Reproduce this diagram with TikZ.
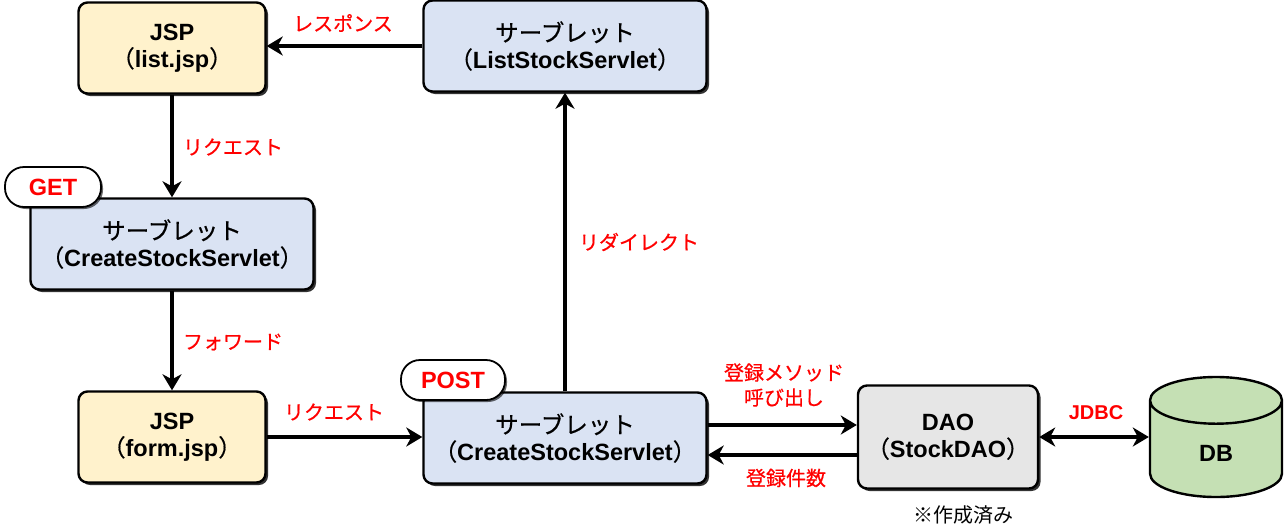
\documentclass[tikz,border=0pt]{standalone}
\usepackage{fontspec}
\setmainfont{Liberation Sans}
\newfontfamily\jp[FakeBold=0.6]{Noto Sans CJK JP}
\newfontfamily\jpthin{Noto Sans CJK JP}
\usetikzlibrary{arrows.meta,shapes.geometric,shadows,calc}
\definecolor{jspfill}{HTML}{FFF2CC}
\definecolor{svfill}{HTML}{DAE3F3}
\definecolor{daofill}{HTML}{E6E6E6}
\definecolor{dbfill}{HTML}{C5E0B4}
\newcommand{\Jp}[1]{{\jp\mdseries #1}}
\newcommand{\Paren}[1]{\Jp{（}#1\Jp{）}}
\newcommand{\BoxFont}{\fontsize{23.5}{27}\selectfont\bfseries}
\newcommand{\LabelFont}{\fontsize{20}{25}\selectfont}
\tikzset{Box/.style={
    rounded corners=9pt,
    line width=2.4pt,
    draw=black,
    align=center,
    inner sep=0pt,
    font=\BoxFont,
    drop shadow={shadow xshift=2.5pt, shadow yshift=-2.5pt, fill=black, opacity=0.8},
    }
}
\tikzset{>={Stealth[length=16pt,width=19pt,inset=5pt]}}

\begin{document}
\begin{tikzpicture}[x=1pt, y=-1pt,
    Jsp/.style={Box, fill=jspfill, minimum width=187pt, minimum height=91pt},
    Sv/.style={Box, fill=svfill, minimum width=283pt, minimum height=91pt},
    Dao/.style={Box, fill=daofill, minimum width=180pt, minimum height=103pt},
    Pill/.style={rounded corners=19pt, line width=1.8pt, draw=black, fill=white,
    minimum height=40pt, inner sep=0pt, text=red, font=\BoxFont,
    drop shadow={shadow xshift=2pt, shadow yshift=-2pt, fill=black, opacity=0.6}},
    Lbl/.style={text=red, font=\LabelFont\jp, align=center, inner sep=0pt},
    Link/.style={line width=4pt, ->},
]
\useasboundingbox (0,0) rectangle (1284,531);
% boxes
\node [Jsp] (jsplist) at (172,48) {JSP\\\Paren{list.jsp}};
\node [Sv] (listsv) at (565,46) {\Jp{サーブレット}\\\Paren{ListStockServlet}};
\node [Sv] (createget) at (172,244) {\Jp{サーブレット}\\\Paren{CreateStockServlet}};
\node [Jsp] (jspform) at (172,437) {JSP\\\Paren{form.jsp}};
\node [Sv] (createpost) at (565,438) {\Jp{サーブレット}\\\Paren{CreateStockServlet}};
\node [Dao] (dao) at (948,437) {DAO\\\Paren{StockDAO}};
\node [cylinder, shape border rotate=90, draw=black, line width=2.4pt, fill=dbfill,
    minimum width=132pt, minimum height=120pt, aspect=1.15, font=\BoxFont,
    anchor=shape center] (db) at (1216,437) {DB};
% methods
\node [Pill, minimum width=96pt] (get) at (53,187) {GET};
\node [Pill, minimum width=104pt] (post) at (453,380) {POST};
% connectors
\draw [Link] (listsv.west) -- (listsv.west -| jsplist.east);
\draw [Link] (jsplist.south) -- (createget.north);
\draw [Link] (createget.south) -- (jspform.north);
\draw [Link] (jspform.east) -- (jspform.east -| createpost.west);
\draw [Link] (createpost.north) -- (listsv.south);
\draw [Link] ([yshift=13pt]createpost.east) -- ([yshift=13pt]createpost.east -| dao.west);
\draw [Link] ([yshift=-18pt]dao.west) -- ([yshift=-18pt]dao.west -| createpost.east);
\draw [line width=4pt, <->] (dao.east) -- (dao.east -| db.west);
% labels
\node [Lbl] (resp) at (343,23) {レスポンス};
\node [Lbl] (req1) at (233,147) {リクエスト};
\node [Lbl] (fwd) at (233,342) {フォワード};
\node [Lbl] (req2) at (334,412) {リクエスト};
\node [Lbl] (redir) at (639,242) {リダイレクト};
\node [Lbl] (call) at (784,385) {登録メソッド\\呼び出し};
\node [Lbl] (count) at (786,478) {登録件数};
\node [Lbl, font=\LabelFont\bfseries] (jdbc) at (1096,413) {JDBC};
\node [font=\LabelFont\jpthin, inner sep=0pt] (done) at (963,515) {※作成済み};
\end{tikzpicture}
\end{document}
